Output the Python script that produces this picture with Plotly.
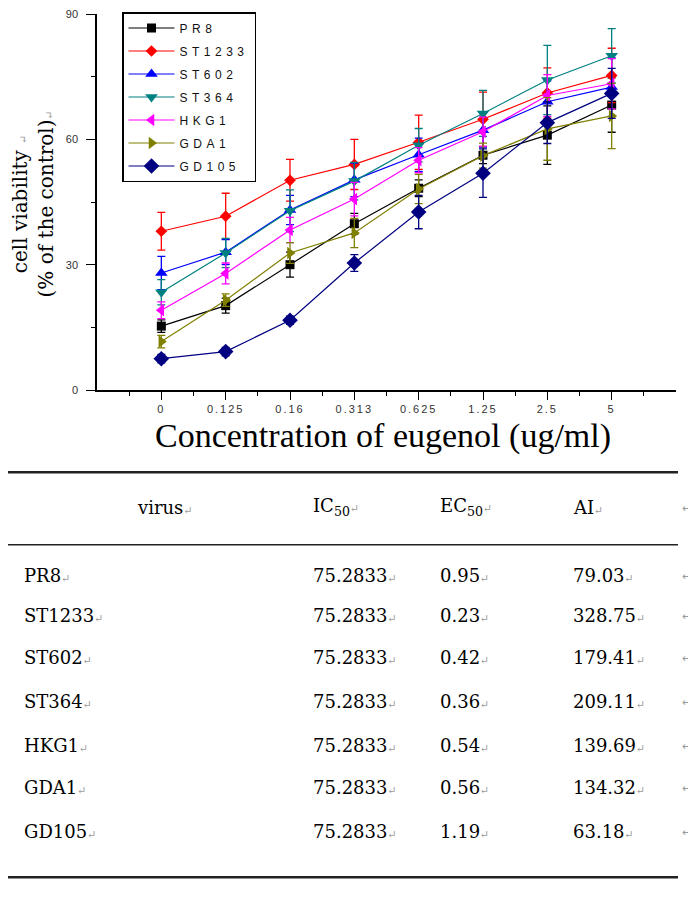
import plotly.graph_objects as go

# ---------------- data ----------------
concentrations = ["0", "0.125", "0.16", "0.313", "0.625", "1.25", "2.5", "5"]

series_names = ["PR8", "ST1233", "ST602", "ST364", "HKG1", "GDA1", "GD105"]

pr8 = [15.3, 20.2, 30.0, 39.8, 48.3, 56.2, 61.0, 68.2]
st1233 = [38.0, 41.6, 50.2, 54.0, 59.3, 64.8, 71.1, 75.3]
st602 = [28.0, 33.0, 43.1, 50.3, 56.3, 62.2, 69.0, 72.5]
st364 = [23.4, 32.8, 42.9, 50.0, 58.6, 66.2, 74.2, 80.0]
hkg1 = [19.1, 27.9, 38.3, 45.7, 55.0, 61.8, 70.5, 73.3]
gda1 = [11.6, 21.5, 32.8, 37.6, 48.1, 56.1, 62.5, 65.6]
gd105 = [7.5, 9.2, 16.7, 30.4, 42.6, 51.9, 64.0, 71.0]

pr8_err = [1.5, 1.8, 3.0, 2.5, 2.0, 2.0, 7.0, 6.5]
st1233_err = [4.5, 5.5, 5.0, 6.0, 6.5, 6.5, 6.0, 6.5]
st602_err = [4.0, 3.0, 3.5, 4.0, 4.0, 4.0, 5.0, 7.0]
st364_err = [3.0, 3.5, 5.0, 4.5, 4.0, 5.5, 8.3, 6.5]
hkg1_err = [2.0, 2.5, 3.0, 4.0, 3.0, 3.5, 5.0, 6.0]
gda1_err = [1.5, 1.5, 2.5, 3.5, 3.5, 3.0, 7.5, 7.8]
gd105_err = [1.0, 1.0, 1.0, 2.0, 4.0, 5.8, 5.0, 6.0]

y_ticks = [0, 30, 60, 90]

table_header = ["virus", "IC<sub>50</sub>", "EC<sub>50</sub>", "AI"]
table_virus = ["PR8", "ST1233", "ST602", "ST364", "HKG1", "GDA1", "GD105"]
table_ic50 = ["75.2833"] * 7
table_ec50 = ["0.95", "0.23", "0.42", "0.36", "0.54", "0.56", "1.19"]
table_ai = ["79.03", "328.75", "179.41", "209.11", "139.69", "134.32", "63.18"]

# ---------------- styles ----------------
values = [pr8, st1233, st602, st364, hkg1, gda1, gd105]
errors = [pr8_err, st1233_err, st602_err, st364_err, hkg1_err, gda1_err, gd105_err]
colors = ["#000000", "#FF0000", "#0000FF", "#008080", "#FF00FF", "#808000", "#000080"]
symbols = ["square", "diamond", "triangle-up", "triangle-down", "triangle-left",
           "triangle-right", "diamond"]
sizes = [9, 9, 11, 11, 11, 11, 12]

# The page body has an 8px default margin, so the figure starts at (8, 8).
OFF = 8
PAGE_W, PAGE_H = 696, 905
W, H = PAGE_W - OFF, PAGE_H - OFF
PLOT_TOP = 13            # page y of the top of the plot area
PLOT_BOTTOM = 392        # page y of the x axis
PLOT_LEFT, PLOT_RIGHT = 97, 676


def px(x):
    return (x - OFF) / W


def py(y):
    return (PAGE_H - y) / (PAGE_H - PLOT_TOP)


RET = "<span style='color:#9a9a9a;font-size:11px'>↵</span>"

xpos = list(range(len(concentrations)))

fig = go.Figure()
for i, name in enumerate(series_names):
    fig.add_trace(go.Scatter(
        x=xpos, y=values[i],
        mode="lines+markers",
        name=f"<span style='letter-spacing:4.5px'>{name}</span>",
        legendgroup=name,
        line=dict(color=colors[i], width=1.2),
        marker=dict(symbol=symbols[i], size=sizes[i], color=colors[i],
                    line=dict(width=0)),
        error_y=dict(type="data", array=errors[i], visible=True,
                     color=colors[i], thickness=1.3, width=4),
    ))

axis_font = dict(family="Liberation Sans, Arial", size=11, color="#333333")

fig.update_layout(
    width=W, height=H,
    margin=dict(l=0, r=0, t=PLOT_TOP - OFF, b=0),
    paper_bgcolor="white", plot_bgcolor="white",
    showlegend=True,
    legend=dict(
        x=px(122), y=py(11), xanchor="left", yanchor="top",
        bordercolor="black", borderwidth=1.5, bgcolor="white",
        font=dict(family="Liberation Sans, Arial", size=12, color="#111111"),
        itemwidth=46, tracegroupgap=4,
    ),
    xaxis=dict(
        domain=[px(PLOT_LEFT), px(PLOT_RIGHT)], range=[-1, 8],
        showgrid=False, zeroline=False, showline=True,
        linecolor="black", linewidth=1.5,
        tickmode="array", tickvals=xpos,
        ticktext=[f"<span style='letter-spacing:2px'>{c}</span>" for c in concentrations],
        ticks="outside", ticklen=8, tickwidth=1.3, tickcolor="black",
        tickfont=axis_font,
        minor=dict(tickmode="linear", tick0=-0.5, dtick=1, ticks="outside",
                   ticklen=4, tickwidth=1.2, tickcolor="black"),
    ),
    yaxis=dict(
        domain=[py(PLOT_BOTTOM), 1], range=[0, 90],
        showgrid=False, zeroline=False, showline=True,
        linecolor="black", linewidth=1.5,
        tickmode="array", tickvals=y_ticks,
        ticks="outside", ticklen=9, tickwidth=1.3, tickcolor="black",
        ticklabelstandoff=6, ticklabeloverflow="allow",
        tickfont=axis_font,
        minor=dict(tickmode="linear", tick0=15, dtick=30, ticks="outside",
                   ticklen=4, tickwidth=1.2, tickcolor="black"),
    ),
)

ann = []
# axis titles
ann.append(dict(x=px(383), y=py(438), xref="paper", yref="paper",
                text="Concentration of eugenol (ug/ml)", showarrow=False,
                font=dict(family="Liberation Serif, Times New Roman", size=34, color="black"),
                xanchor="center", yanchor="middle"))
ann.append(dict(x=px(33), y=py(205), xref="paper", yref="paper",
                text=f"cell viability {RET}<br>(% of the control){RET}", showarrow=False,
                textangle=-90,
                font=dict(family="DejaVu Serif", size=20, color="black"),
                xanchor="center", yanchor="middle"))

tfont = dict(family="DejaVu Serif", size=18, color="black")
col_x = [22, 311, 438, 571]
# header
ann.append(dict(x=px(135), y=py(510), xref="paper", yref="paper",
                text=table_header[0] + RET, showarrow=False, font=tfont,
                xanchor="left", yanchor="middle"))
for j in range(1, 4):
    ann.append(dict(x=px(col_x[j]), y=py(510), xref="paper", yref="paper",
                    text=table_header[j] + RET, showarrow=False, font=tfont,
                    xanchor="left", yanchor="middle"))
ann.append(dict(x=px(686), y=py(510), xref="paper", yref="paper", text=RET,
                showarrow=False, xanchor="center", yanchor="middle"))

row_y = [579, 619, 662, 706, 750, 793, 837]
for r in range(len(table_virus)):
    cells = [table_virus[r], table_ic50[r], table_ec50[r], table_ai[r]]
    for j in range(4):
        ann.append(dict(x=px(col_x[j]), y=py(row_y[r]), xref="paper", yref="paper",
                        text=cells[j] + RET, showarrow=False, font=tfont,
                        xanchor="left", yanchor="middle"))
    ann.append(dict(x=px(686), y=py(row_y[r]), xref="paper", yref="paper", text=RET,
                    showarrow=False, xanchor="center", yanchor="middle"))

fig.update_layout(annotations=ann)

shapes = []
for yy, lw in [(475, 2.5), (548, 1.5), (883, 2.5)]:
    shapes.append(dict(type="line", xref="paper", yref="paper",
                       x0=px(OFF), x1=px(678), y0=py(yy), y1=py(yy),
                       line=dict(color="#222222", width=lw)))
fig.update_layout(shapes=shapes)

fig.write_html("out.html")
